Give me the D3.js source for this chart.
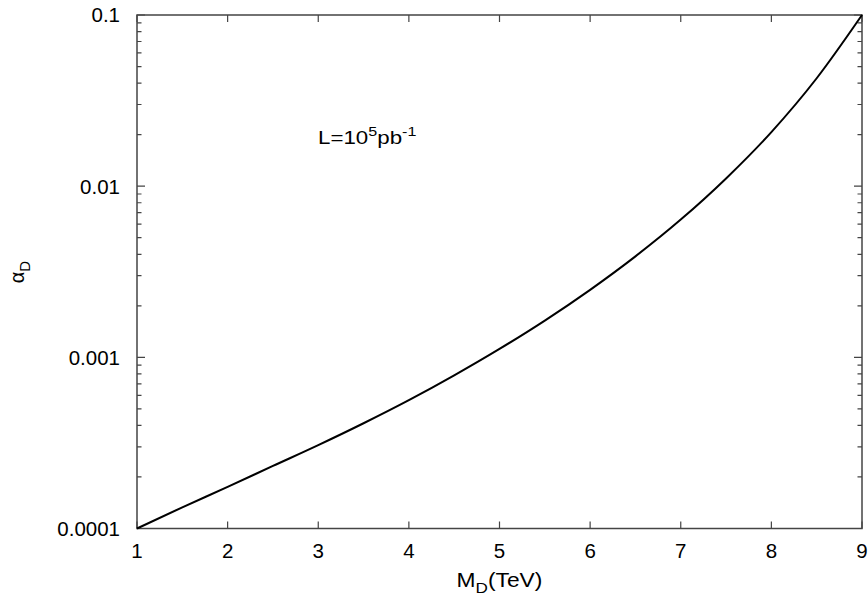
<!DOCTYPE html>
<html>
<head>
<meta charset="utf-8">
<script src="https://cdn.jsdelivr.net/npm/d3@7"></script>
<style>
  body { margin: 0; background: #fff; }
  svg text { font-family: "Liberation Sans", Arial, sans-serif; fill: #000; }
</style>
</head>
<body>
<svg id="chart" width="868" height="600"></svg>
<script>
// values
var massTeV = [1, 1.5, 2, 2.5, 3, 3.5, 4, 4.5, 5, 5.5, 6, 6.5, 7, 7.5, 8, 8.5, 9];
var alphaD = [1.0e-4, 1.33e-4, 1.75e-4, 2.32e-4, 3.07e-4, 4.12e-4, 5.62e-4, 7.85e-4, 1.12e-3,
              1.64e-3, 2.48e-3, 3.89e-3, 6.38e-3, 1.11e-2, 2.07e-2, 4.27e-2, 0.1];
var xTicks = [1, 2, 3, 4, 5, 6, 7, 8, 9];
var yTicks = [0.0001, 0.001, 0.01, 0.1];
var yTickLabels = ["0.0001", "0.001", "0.01", "0.1"];

var svg = d3.select("#chart");
var plotL = 137, plotR = 862, plotT = 15, plotB = 528.5;

var x = d3.scaleLinear().domain([1, 9]).range([plotL, plotR]);
var y = d3.scaleLog().domain([0.0001, 0.1]).range([plotB, plotT]);

// minor ticks on log axis
var minor = [];
[0.0001, 0.001, 0.01].forEach(function(d) {
  for (var k = 2; k <= 9; k++) minor.push(d * k);
});

var frameColor = "#444";
var g = svg.append("g");

// y ticks left & right
g.selectAll(".ymaj").data(yTicks).enter().append("path")
  .attr("d", function(d) {
    var yy = y(d);
    return "M" + plotL + "," + yy + "h8M" + plotR + "," + yy + "h-8";
  })
  .attr("stroke", frameColor).attr("stroke-width", 1.2);
g.selectAll(".ymin").data(minor).enter().append("path")
  .attr("d", function(d) {
    var yy = y(d);
    return "M" + plotL + "," + yy + "h4.5M" + plotR + "," + yy + "h-4.5";
  })
  .attr("stroke", frameColor).attr("stroke-width", 1.2);

// x ticks bottom & top
g.selectAll(".xmaj").data(xTicks).enter().append("path")
  .attr("d", function(d) {
    var xx = x(d);
    return "M" + xx + "," + plotB + "v-7M" + xx + "," + plotT + "v7";
  })
  .attr("stroke", frameColor).attr("stroke-width", 1.2);

// frame
g.append("rect")
  .attr("x", plotL).attr("y", plotT)
  .attr("width", plotR - plotL).attr("height", plotB - plotT)
  .attr("fill", "none").attr("stroke", frameColor).attr("stroke-width", 1.5);

// tick labels
g.selectAll(".ylab").data(yTicks).enter().append("text")
  .attr("x", plotL - 17).attr("y", function(d) { return y(d); })
  .attr("dy", "0.36em")
  .attr("text-anchor", "end")
  .style("font-size", "20.5px")
  .text(function(d, i) { return yTickLabels[i]; });

g.selectAll(".xlab").data(xTicks).enter().append("text")
  .attr("x", function(d) { return x(d); }).attr("y", 558)
  .attr("text-anchor", "middle")
  .style("font-size", "20.5px")
  .text(function(d) { return d; });

// curve
var line = d3.line()
  .x(function(d, i) { return x(massTeV[i]); })
  .y(function(d) { return y(d); })
  .curve(d3.curveMonotoneX);

svg.append("path")
  .datum(alphaD)
  .attr("d", line)
  .attr("fill", "none")
  .attr("stroke", "#000")
  .attr("stroke-width", 2);

// axis titles (text in the reference is a bit wider than Arial)
var xt = svg.append("text")
  .attr("transform", "translate(" + ((plotL + plotR) / 2) + ",587) scale(1.14,1)")
  .attr("text-anchor", "middle")
  .style("font-size", "20px");
xt.append("tspan").text("M");
xt.append("tspan").attr("dy", 6).style("font-size", "15px").text("D");
xt.append("tspan").attr("dy", -6).text("(TeV)");

var yt = svg.append("text")
  .attr("transform", "translate(24,272) rotate(-90)")
  .attr("text-anchor", "middle")
  .style("font-size", "20px");
yt.append("tspan").text("\u03b1");
yt.append("tspan").attr("dy", 6).style("font-size", "15px").text("D");

// annotation
var ann = svg.append("text")
  .attr("transform", "translate(318,144) scale(1.24,1)")
  .style("font-size", "18px");
ann.append("tspan").text("L=10");
ann.append("tspan").attr("dy", -8).style("font-size", "13px").text("5");
ann.append("tspan").attr("dy", 8).text("pb");
ann.append("tspan").attr("dy", -8).style("font-size", "13px").text("-1");
</script>
</body>
</html>
